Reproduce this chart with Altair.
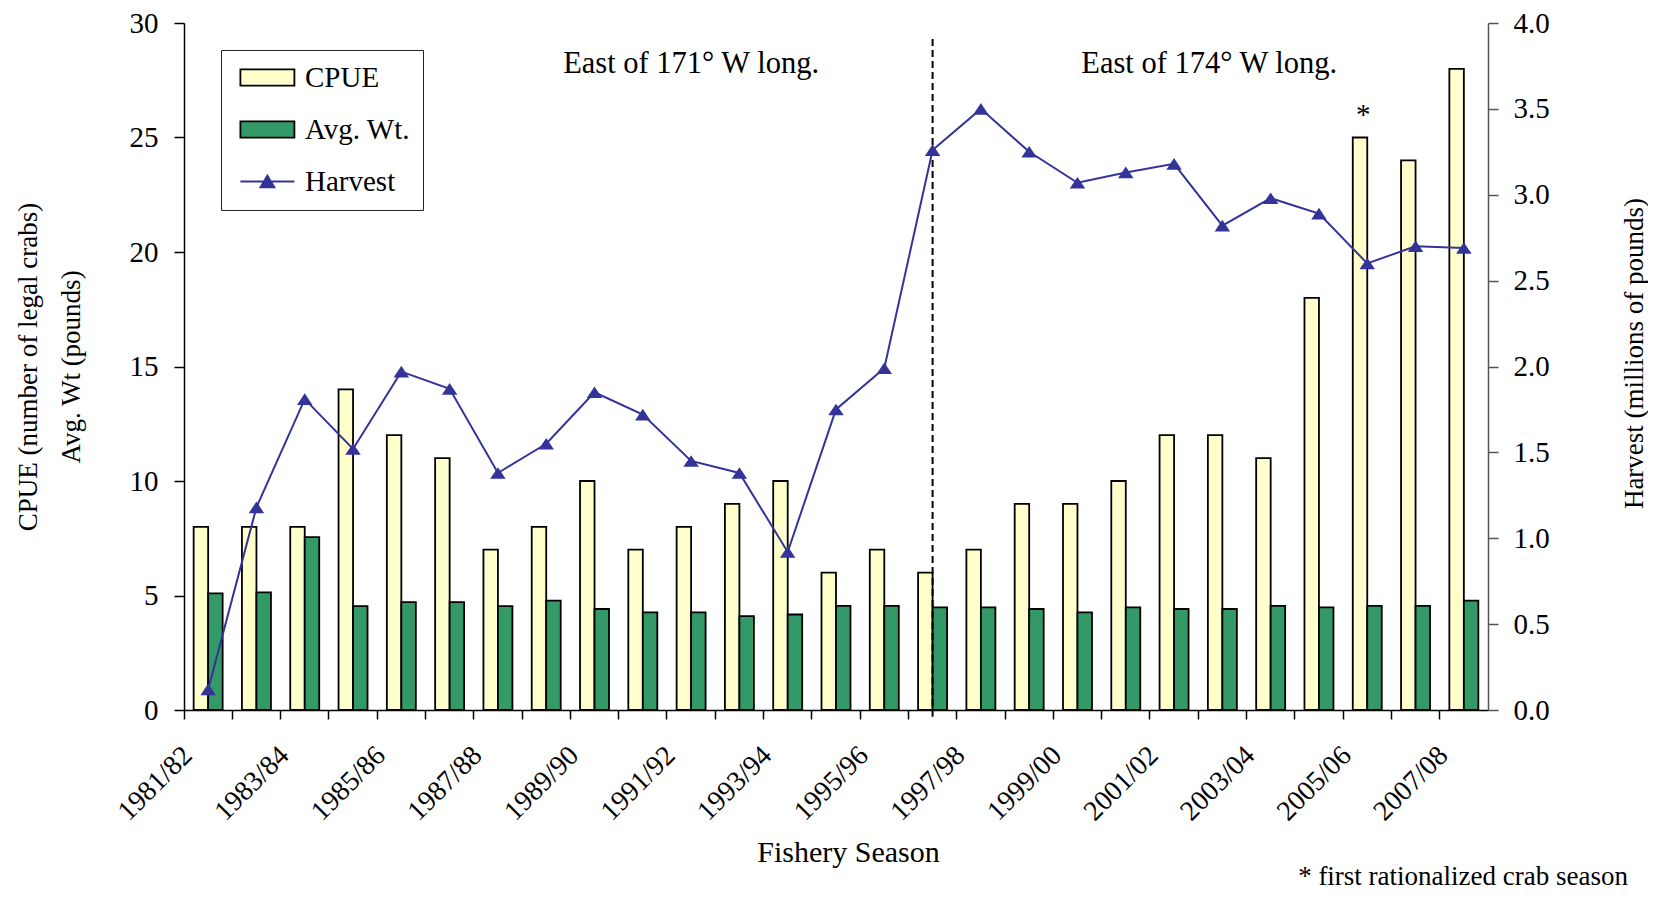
import altair as alt
import pandas as pd

# ---------------- data ----------------
seasons = ["1981/82", "1982/83", "1983/84", "1984/85", "1985/86", "1986/87", "1987/88",
           "1988/89", "1989/90", "1990/91", "1991/92", "1992/93", "1993/94", "1994/95",
           "1995/96", "1996/97", "1997/98", "1998/99", "1999/00", "2000/01", "2001/02",
           "2002/03", "2003/04", "2004/05", "2005/06", "2006/07", "2007/08"]
cpue = [8, 8, 8, 14, 12, 11, 7, 8, 10, 7, 8, 9, 10, 6, 7, 6, 7, 9, 9, 10, 12, 12, 11, 18, 25, 24, 28]
avg_wt = [5.09, 5.14, 7.55, 4.54, 4.71, 4.71, 4.54, 4.78, 4.41, 4.26, 4.26, 4.10, 4.17, 4.55,
          4.55, 4.48, 4.48, 4.41, 4.26, 4.48, 4.41, 4.41, 4.55, 4.48, 4.55, 4.55, 4.78]
harvest = [0.12, 1.18, 1.81, 1.52, 1.97, 1.87, 1.38, 1.55, 1.85, 1.72, 1.45, 1.38, 0.92, 1.75,
           1.99, 3.26, 3.50, 3.25, 3.07, 3.13, 3.18, 2.82, 2.98, 2.89, 2.60, 2.70, 2.69]
series_names = ["CPUE", "Avg. Wt.", "Harvest"]
series_fill = ["#FFFFCC", "#339966", "#333399"]
series_stroke = ["#000000", "#000000", "#333399"]
boundary_season = "1996/97"
rationalized_season = "2005/06"
region_labels = ["East of 171° W long.", "East of 174° W long."]
footnote = "* first rationalized crab season"

# ---------------- tables ----------------
bar_df = pd.DataFrame({
    "season": seasons * 2,
    "series": ["CPUE"] * len(seasons) + ["Avg. Wt."] * len(seasons),
    "value": cpue + avg_wt,
})
h_df = pd.DataFrame({"season": seasons, "harvest": harvest})
legend_df = pd.DataFrame({"series": series_names})
rule_df = pd.DataFrame({"season": [boundary_season], "value": [29.3], "bottom": [-0.3]})
star_df = pd.DataFrame({"season": [rationalized_season], "value": [25.6], "t": ["*"]})
ann1_df = pd.DataFrame({"season": ["1991/92"], "value": [27.8], "t": [region_labels[0]]})
ann2_df = pd.DataFrame({"season": ["2002/03"], "value": [27.8], "t": [region_labels[1]]})
foot_df = pd.DataFrame({"t": [footnote]})

FONT = "Liberation Serif"
x_scale = alt.Scale(domain=seasons, paddingInner=0, paddingOuter=0)
yl_scale = alt.Scale(domain=[0, 30], nice=False)
yr_scale = alt.Scale(domain=[0, 4], nice=False)

# legend swatch paths (scaled by sqrt(size)/2 = 13.5 px)
RECT = "M-0.6,-0.6H3.4V0.6H-0.6Z"
HARV = "M-0.6,0H3.4M0.88,0.44L1.4,-0.44L1.92,0.44Z"
TRI = "M-1,0.75L0,-0.75L1,0.75Z"

x_axis = alt.Axis(
    title="Fishery Season", titleFontSize=30, titleX=664, titleY=151,
    titleBaseline="alphabetic", titleAlign="center",
    labelAngle=315, labelFontSize=28, labelPadding=22, labelOffset=-30,
    labelExpr="toNumber(substring(datum.value,0,4)) % 2 == 1 ? datum.value : ''",
    labelOverlap=False, labelBound=False, labelFlush=False,
    bandPosition=0, tickSize=9, tickColor="black", domainColor="black",
)
yl_axis = alt.Axis(
    title=["CPUE (number of legal crabs)", "Avg. Wt (pounds)"],
    titleAngle=270, titleX=-148, titleY=343.5, titleAlign="center",
    titleBaseline="alphabetic", titleLineHeight=43, titleFontSize=27,
    values=[0, 5, 10, 15, 20, 25, 30], format="d", labelFontSize=29,
    tickSize=10, labelPadding=16, domainColor="black", tickColor="black",
)
yr_axis = alt.Axis(
    orient="right", title="Harvest (millions of pounds)",
    titleAngle=270, titleX=154, titleY=330, titleAlign="center",
    titleBaseline="alphabetic", titleFontSize=27,
    values=[0, 0.5, 1, 1.5, 2, 2.5, 3, 3.5, 4], format=".1f", labelFontSize=29,
    tickSize=10, labelPadding=15, domainColor="#555555", tickColor="#555555",
)

leg = alt.Legend(title=None, orient="none", legendX=37, legendY=27)

X = alt.X("season:N", scale=x_scale, axis=x_axis)
YL = alt.Y("value:Q", scale=yl_scale, axis=yl_axis)

bars = alt.Chart(bar_df).mark_bar(stroke="black", strokeWidth=1.8).encode(
    x=X,
    xOffset=alt.XOffset("series:N", sort=["CPUE", "Avg. Wt."],
                        scale=alt.Scale(domain=["CPUE", "Avg. Wt."], paddingInner=0, paddingOuter=0.666)),
    y=YL,
    color=alt.Color("series:N", scale=alt.Scale(domain=series_names[:2], range=series_fill[:2]), legend=None),
)

legend_layer = alt.Chart(legend_df).transform_filter("false").mark_point(
    filled=True, size=729, strokeWidth=1.8, opacity=1
).encode(
    fill=alt.Fill("series:N", scale=alt.Scale(domain=series_names, range=series_fill), legend=leg),
    stroke=alt.Stroke("series:N", scale=alt.Scale(domain=series_names, range=series_stroke), legend=leg),
    shape=alt.Shape("series:N", scale=alt.Scale(domain=series_names, range=[RECT, RECT, HARV]), legend=leg),
)

rule = alt.Chart(rule_df).mark_rule(strokeDash=[7, 4], strokeWidth=2, color="black").encode(
    x=X, y=YL, y2="bottom:Q",
)

star = alt.Chart(star_df).mark_text(font=FONT, fontSize=29, dx=-4, baseline="alphabetic", color="black").encode(
    x=X, y=YL, text="t:N",
)
ann1 = alt.Chart(ann1_df).mark_text(font=FONT, fontSize=30.5, baseline="alphabetic", color="black").encode(
    x=X, y=YL, text="t:N",
)
ann2 = alt.Chart(ann2_df).mark_text(font=FONT, fontSize=30.5, dx=11, baseline="alphabetic", color="black").encode(
    x=alt.X("season:N", scale=x_scale, axis=x_axis, bandPosition=0), y=YL, text="t:N",
)
foot = alt.Chart(foot_df).mark_text(font=FONT, fontSize=27, align="right", baseline="alphabetic", color="black").encode(
    x=alt.value(1444), y=alt.value(862), text="t:N",
)

left = alt.layer(bars, legend_layer, rule, star, ann1, ann2, foot)

YR = alt.Y("harvest:Q", scale=yr_scale, axis=yr_axis)
line = alt.Chart(h_df).mark_line(color="#333399", strokeWidth=2).encode(x=X, y=YR)
pts = alt.Chart(h_df).mark_point(shape=TRI, size=240, filled=True, color="#333399", opacity=1).encode(x=X, y=YR)
right = alt.layer(line, pts)

chart = alt.layer(left, right).resolve_scale(y="independent").properties(
    width=1304, height=687,
    background="white",
    autosize=alt.AutoSizeParams(type="none"),
    padding={"left": 176, "top": 15, "right": 160, "bottom": 180},
).configure_view(strokeWidth=0).configure_axis(
    labelFont=FONT, titleFont=FONT, labelColor="black", titleColor="black",
    titleFontWeight="normal", grid=False, domainWidth=1.5, tickWidth=1.5,
).configure_legend(
    labelFont=FONT, labelFontSize=29, labelColor="black", strokeColor="#222222",
    fillColor="white", padding=13, rowPadding=22, labelOffset=42,
    symbolSize=729, symbolStrokeWidth=1.8,
)

chart.save("out.html", embed_options={"renderer": "svg", "actions": False})
